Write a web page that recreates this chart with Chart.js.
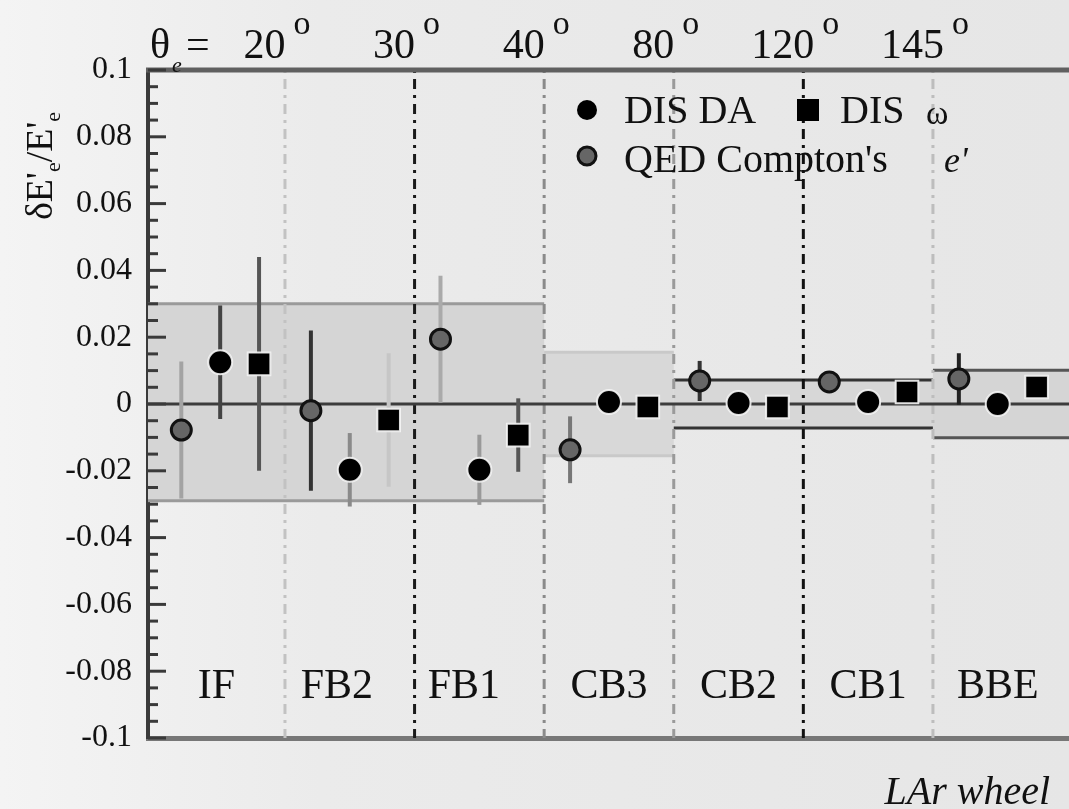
<!DOCTYPE html>
<html><head><meta charset="utf-8">
<script src="https://cdn.jsdelivr.net/npm/chart.js@4.4.1/dist/chart.umd.min.js"></script>
<style>
html,body{margin:0;padding:0;width:1069px;height:809px;overflow:hidden;background:linear-gradient(90deg,#f4f4f4 0%,#ebebeb 30%,#e6e6e6 100%);}
canvas{display:block}
</style></head><body>
<canvas id="c" width="1069" height="809"></canvas>
<script>
// ---- data ----
const regions = ['IF','FB2','FB1','CB3','CB2','CB1','BBE'];
const thetaLabels = ['20','30','40','80','120','145'];
const yTicks = [-0.1,-0.08,-0.06,-0.04,-0.02,0,0.02,0.04,0.06,0.08,0.1];
const yTickLabels = ['-0.1','-0.08','-0.06','-0.04','-0.02','0','0.02','0.04','0.06','0.08','0.1'];
const qedValues   = [-0.0078,-0.0020, 0.0194,-0.0137, 0.0069, 0.0066, 0.0075];
const qedErrors   = [ 0.0205, 0.0240, 0.0190, 0.0100, 0.0060, 0.0020, 0.0077];
const daValues    = [ 0.0125,-0.0197,-0.0197, 0.0006, 0.0003, 0.0006, 0.0000];
const daErrors    = [ 0.0170, 0.0110, 0.0105, 0.0015, 0.0010, 0.0010, 0.0010];
const omegaValues = [ 0.0120,-0.0048,-0.0093,-0.0009,-0.0009, 0.0036, 0.0051];
const omegaErrors = [ 0.0320, 0.0200, 0.0110, 0.0015, 0.0010, 0.0030, 0.0020];
const bandFrom = [0,3,4,6];
const bandTo   = [3,4,6,7];
const bandHigh = [0.0300, 0.0155, 0.0072, 0.0101];
const bandLow  = [-0.0290,-0.0155,-0.0072,-0.0101];

// ---- styles ----
const FONT = '"Liberation Serif","DejaVu Serif",serif';
const bandFill = ['#d5d5d5','#d8d8d8','#d7d7d7','#d5d5d5'];
const bandLine = ['#9a9a9a','#c9c9c9','#333333','#555555'];
const dividerColor = ['#c2c2c2','#1a1a1a','#8a8a8a','#9a9a9a','#111111','#bdbdbd'];
const qedErrColor   = ['#a3a3a3','#333333','#aaaaaa','#777777','#333333','#555555','#222222'];
const daErrColor    = ['#444444','#8a8a8a','#999999','#000000','#000000','#000000','#000000'];
const omegaErrColor = ['#555555','#c6c6c6','#555555','#000000','#000000','#000000','#000000'];
const offsets = {qed:0.2, da:0.5, omega:0.8};

function pts(vals, off){ return vals.map((v,i)=>({x:i+off, y:v})); }

const deco = {
  id:'deco',
  beforeDatasetsDraw(chart){
    const {ctx, chartArea:a, scales:{x,y}} = chart;
    const px = v => v<=0 ? a.left : (v>=regions.length ? a.right : x.getPixelForValue(v));
    ctx.save();
    bandFrom.forEach((f,i)=>{
      const x0 = px(f), x1 = px(bandTo[i]);
      const y0 = y.getPixelForValue(bandHigh[i]), y1 = y.getPixelForValue(bandLow[i]);
      ctx.fillStyle = bandFill[i];
      ctx.fillRect(x0, y0, x1-x0, y1-y0);
      ctx.strokeStyle = bandLine[i]; ctx.lineWidth = 3;
      ctx.beginPath(); ctx.moveTo(x0,y0); ctx.lineTo(x1,y0); ctx.moveTo(x0,y1); ctx.lineTo(x1,y1); ctx.stroke();
    });
    for(let i=1;i<regions.length;i++){
      const xx = x.getPixelForValue(i);
      ctx.strokeStyle = dividerColor[i-1]; ctx.lineWidth = 3;
      ctx.setLineDash([3,6,10,6]);
      ctx.beginPath(); ctx.moveTo(xx,a.top); ctx.lineTo(xx,a.bottom); ctx.stroke();
    }
    ctx.setLineDash([]);
    const y0 = y.getPixelForValue(0);
    ctx.strokeStyle = '#3c3c3c'; ctx.lineWidth = 3;
    ctx.beginPath(); ctx.moveTo(a.left,y0); ctx.lineTo(a.right,y0); ctx.stroke();
    const eb = (vals, errs, cols, off) => vals.forEach((v,i)=>{
      const xx = x.getPixelForValue(i+off);
      ctx.strokeStyle = cols[i]; ctx.lineWidth = 4;
      ctx.beginPath(); ctx.moveTo(xx, y.getPixelForValue(v+errs[i])); ctx.lineTo(xx, y.getPixelForValue(v-errs[i])); ctx.stroke();
    });
    eb(qedValues, qedErrors, qedErrColor, offsets.qed);
    eb(daValues, daErrors, daErrColor, offsets.da);
    eb(omegaValues, omegaErrors, omegaErrColor, offsets.omega);
    ctx.restore();
  },
  afterDraw(chart){
    const {ctx, chartArea:a, scales:{x,y}} = chart;
    ctx.save();
    ctx.strokeStyle = '#606060'; ctx.lineWidth = 5;
    ctx.beginPath(); ctx.moveTo(a.left-2,a.top); ctx.lineTo(a.right,a.top); ctx.stroke();
    ctx.strokeStyle = '#3a3a3a'; ctx.lineWidth = 3;
    for(let k=-20;k<=20;k++){
      const v = k*0.005, yy = y.getPixelForValue(v);
      const len = (k%4===0) ? 18 : 10;
      ctx.beginPath(); ctx.moveTo(a.left, yy); ctx.lineTo(a.left+len, yy); ctx.stroke();
    }
    ctx.fillStyle = '#111';
    ctx.font = '42px '+FONT; ctx.textAlign='center'; ctx.textBaseline='middle';
    const shift = [0,-0.1,-0.12,0,0,0,0];
    regions.forEach((r,i)=>{
      const cx = i===0 ? (a.left + x.getPixelForValue(1))/2 : x.getPixelForValue(i+0.5+shift[i]);
      ctx.fillText(r, cx, y.getPixelForValue(-0.0848));
    });
    ctx.textBaseline='alphabetic'; ctx.textAlign='left';
    ctx.font = '42px '+FONT;
    ctx.fillText('\u03b8', 150, 58);
    ctx.font = 'italic 22px '+FONT;
    ctx.fillText('e', 172, 72);
    ctx.font = '42px '+FONT;
    ctx.fillText('=', 186, 58);
    thetaLabels.forEach((t,i)=>{
      const d = x.getPixelForValue(i+1);
      ctx.font = '42px '+FONT;
      const w1 = ctx.measureText(t).width;
      ctx.font = '34px '+FONT;
      const w2 = ctx.measureText('o').width;
      const tot = w1 + 8 + w2;
      const sx = d - 8 - tot/2;
      ctx.font = '42px '+FONT; ctx.fillText(t, sx, 58);
      ctx.font = '34px '+FONT; ctx.fillText('o', sx + w1 + 8, 34);
    });
    // legend
    ctx.fillStyle='#000';
    ctx.beginPath(); ctx.arc(587,110,10,0,Math.PI*2); ctx.fill();
    ctx.fillRect(797,99,22,22);
    ctx.fillStyle='#666'; ctx.strokeStyle='#111'; ctx.lineWidth=3;
    ctx.beginPath(); ctx.arc(587,156,9,0,Math.PI*2); ctx.fill(); ctx.stroke();
    ctx.fillStyle='#111';
    ctx.font = '40px '+FONT;
    ctx.fillText('DIS DA', 624, 123);
    ctx.fillText('DIS', 840, 123);
    ctx.font = '34px '+FONT; ctx.fillText('\u03c9', 926, 124);
    ctx.font = '40px '+FONT; ctx.fillText("QED Compton's", 624, 172);
    ctx.font = 'italic 36px '+FONT; ctx.fillText("e'", 944, 172);
    // y title
    ctx.save();
    ctx.translate(52, 166); ctx.rotate(-Math.PI/2);
    const segs = [["\u03b4E'",38,0],["e",22,8],["/E'",38,0],["e",22,8]];
    let tw = 0; segs.forEach(s=>{ctx.font=s[1]+'px '+FONT; tw+=ctx.measureText(s[0]).width;});
    let cx = -tw/2;
    segs.forEach(s=>{ctx.font=s[1]+'px '+FONT; ctx.fillText(s[0], cx, s[2]); cx+=ctx.measureText(s[0]).width;});
    ctx.restore();
    ctx.font = 'italic 40px '+FONT; ctx.textAlign='right';
    ctx.fillText('LAr wheel', 1050, 804);
    ctx.restore();
  }
};

new Chart(document.getElementById('c'), {
  type:'scatter',
  data:{datasets:[
    {label:"QED Compton's e'", data:pts(qedValues, offsets.qed), pointStyle:'circle', pointRadius:10, backgroundColor:'#666', borderColor:'#111', borderWidth:3},
    {label:'DIS DA', data:pts(daValues, offsets.da), pointStyle:'circle', pointRadius:12, backgroundColor:'#000', borderColor:'rgba(245,245,245,0.9)', borderWidth:2},
    {label:'DIS \u03c9', data:pts(omegaValues, offsets.omega), pointStyle:'rect', pointRadius:16, backgroundColor:'#000', borderColor:'rgba(245,245,245,0.9)', borderWidth:2}
  ]},
  options:{
    responsive:false, animation:false,
    layout:{autoPadding:false, padding:{top:70,bottom:71,left:0,right:0}},
    plugins:{legend:{display:false}, tooltip:{enabled:false}},
    scales:{
      x:{type:'linear', min:-0.057, max:7.05, grid:{display:false, drawTicks:false}, ticks:{display:false},
         border:{display:true, color:'#777', width:5}},
      y:{type:'linear', min:-0.1, max:0.1,
         afterBuildTicks: s => { s.ticks = yTicks.map(v=>({value:v})); },
         afterFit: s => { s.width = 148; },
         grid:{drawOnChartArea:false, drawTicks:false},
         border:{display:true, color:'#3a3a3a', width:4},
         ticks:{padding:16, color:'#111', font:{family:FONT, size:32}, callback:(v,i)=>yTickLabels[i]}}
    }
  },
  plugins:[deco]
});
</script>
</body></html>
